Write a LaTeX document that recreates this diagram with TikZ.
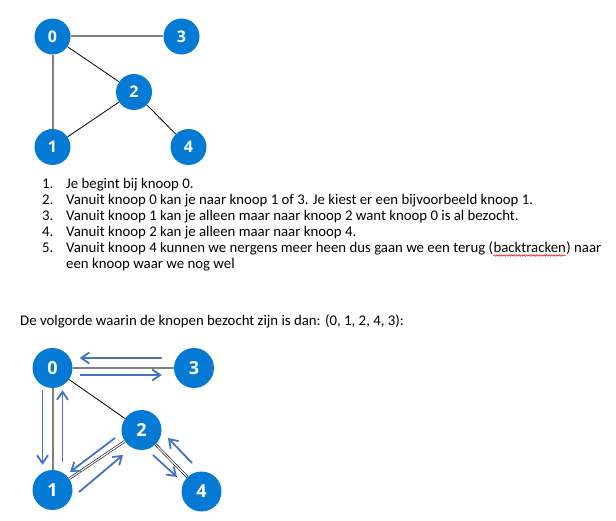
\documentclass[tikz,border=0pt]{standalone}
\usepackage{fontspec}
\setmainfont{Carlito}
\newfontfamily\knoopfont{Open Sans}
\usetikzlibrary{positioning,arrows.meta,decorations.pathmorphing}

\definecolor{knoopblauw}{RGB}{5,122,212}
\definecolor{pijlblauw}{RGB}{68,114,196}

\tikzset{
	knoop/.style={circle, fill=knoopblauw, minimum size=36pt, inner sep=0pt, text=white, font=\knoopfont\bfseries\fontsize{16}{16}\selectfont},
	grotekn/.style={knoop, minimum size=40pt, font=\knoopfont\bfseries\fontsize{18}{18}\selectfont},
	dik/.style={draw=gray, line width=2pt},
	dun/.style={draw=black, line width=0.8pt},
	dubbel/.style={draw=black, line width=0.6pt, double=white, double distance=1.2pt},
	pijl/.style={draw=pijlblauw, line width=1.8pt, -{Straight Barb[length=8pt,width=11pt]}},
	regel/.style={anchor=base west, inner sep=0pt, font=\fontsize{14.8}{16}\selectfont},
	golf/.style={draw=red, line width=0.5pt, decorate, decoration={snake, amplitude=0.8pt, segment length=2.5pt}},
}

\begin{document}
\begin{tikzpicture}[x=1pt, y=-1pt]
	\useasboundingbox (0,0) rectangle (616,521);

	% bovenste graaf
	\node[knoop] (t0) at (52.5,36.5) {0};
	\node[knoop] (t3) at (181.5,36.5) {3};
	\node[knoop] (t2) at (134,92) {2};
	\node[knoop] (t1) at (52.5,147) {1};
	\node[knoop] (t4) at (188.5,147) {4};

	\draw[dik] (t0) -- (t3);
	\draw[dik] (t0) -- (t1);
	\draw[dun] (t0) -- (t2);
	\draw[dun] (t1) -- (t2);
	\draw[dun] (t2) -- (t4);

	% stappen
	\foreach \tekst [count=\i] in {Je begint bij knoop 0.,
		Vanuit knoop 0 kan je naar knoop 1 of 3. Je kiest er een bijvoorbeeld knoop 1.,
		Vanuit knoop 1 kan je alleen maar naar knoop 2 want knoop 0 is al bezocht.,
		Vanuit knoop 2 kan je alleen maar naar knoop 4.}
	{
		\node[regel] (nr\i) at (42,173+16*\i) {\i.};
		\node[regel] (regel\i) at (66,173+16*\i) {\tekst};
	}
	\node[regel] (nr5) at (42,253) {5.};
	\node[regel] (regel5) at (66,253) {Vanuit knoop 4 kunnen we nergens meer heen dus gaan we een terug (};
	\node[regel] (woord) at (regel5.base east) {backtracken};
	\node[regel] (regel5b) at (woord.base east) {) naar};
	\draw[golf] ([yshift=-2.5pt]woord.base west) -- ([yshift=-2.5pt]woord.base east);
	\node[regel] (regel6) at (66,269) {een knoop waar we nog wel};

	\node[regel] (volgorde) at (20,326) {De volgorde waarin de knopen bezocht zijn is dan: (0, 1, 2, 4, 3):};

	% onderste graaf
	\node[grotekn] (b0) at (52.5,368) {0};
	\node[grotekn] (b3) at (194,368) {3};
	\node[grotekn] (b2) at (141.5,430) {2};
	\node[grotekn] (b1) at (52.5,490) {1};
	\node[grotekn] (b4) at (201.5,491.5) {4};

	\draw[dik] (b0) -- (b3);
	\draw[dik] (b0) -- (b1);
	\draw[dun] (b0) -- (b2);
	\draw[dubbel] (b1) -- (b2);
	\draw[dubbel] (b2) -- (b4);

	% volgorde van bezoeken
	\draw[pijl] ([shift={(-12,-10)}]b3.west) -- ([shift={(7,-10)}]b0.east);
	\draw[pijl] ([shift={(7,7)}]b0.east) -- ([shift={(-12,7)}]b3.west);
	\draw[pijl] ([shift={(-10,2)}]b0.south) -- ([shift={(-10,-5)}]b1.north);
	\draw[pijl] ([shift={(10,-8)}]b1.north) -- ([shift={(10,2)}]b0.south);
	\draw[pijl] ([shift={(-26.5,8)}]b2.center) -- ([shift={(17.5,-18)}]b1.center);
	\draw[pijl] ([shift={(26.5,2)}]b1.center) -- ([shift={(-18.5,25)}]b2.center);
	\draw[pijl] ([shift={(11.5,25)}]b2.center) -- ([shift={(-24.5,-14.5)}]b4.center);
	\draw[pijl] ([shift={(-9.5,-28.5)}]b4.center) -- ([shift={(26.5,8)}]b2.center);
\end{tikzpicture}
\end{document}
